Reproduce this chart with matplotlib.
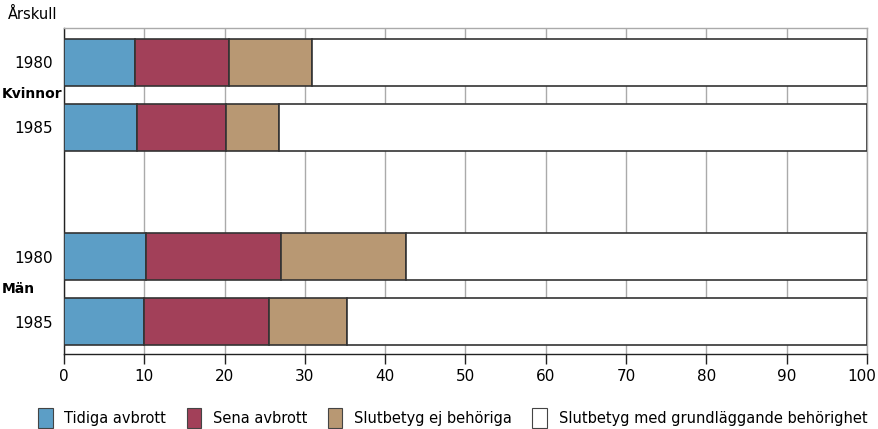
import numpy as np
import matplotlib
matplotlib.use('Agg')
import matplotlib.pyplot as plt
import matplotlib.transforms as mtransforms
from matplotlib.patches import Patch

# data
years = ['1980', '1985', '1980', '1985']
groups = ['Kvinnor', 'Män']
tidiga = [8.8, 9.1, 10.2, 10.0]
sena = [11.7, 11.1, 16.8, 15.5]
ej_behoriga = [10.4, 6.6, 15.6, 9.7]
series_names = ['Tidiga avbrott', 'Sena avbrott', 'Slutbetyg ej behöriga',
                'Slutbetyg med grundläggande behörighet']
colors = ['#5c9ec6', '#a24059', '#b89873', '#ffffff']

plt.rcParams['font.family'] = ['Liberation Sans Narrow', 'DejaVu Sans']
plt.rcParams['font.size'] = 10

fig = plt.figure(figsize=(8.79, 4.29), dpi=100)
ax = fig.add_axes([64/879, 1-354/429, (867-64)/879, (354-28)/429])

pos = np.array([0, 1, 3, 4])
tid = np.array(tidiga)
sen = np.array(sena)
ej = np.array(ej_behoriga)
rest = 100 - tid - sen - ej
left = np.zeros(4)
for vals, c in zip([tid, sen, ej, rest], colors):
    ax.barh(pos, vals, left=left, height=0.73, color=c,
            edgecolor='#333333', linewidth=1.2, zorder=3)
    left = left + vals

ax.set_xlim(0, 100)
ax.set_ylim(4.5, -0.53)
ax.set_xticks(np.arange(0, 101, 10))
ax.xaxis.grid(True, color='#aaaaaa', linewidth=1, zorder=0)
ax.set_yticks(pos)
ax.set_yticklabels(years)
ax.tick_params(axis='y', length=0, pad=8, labelsize=11)
ax.tick_params(axis='x', length=7, width=1, color='#222222', pad=4, labelsize=11)
for s in ['top', 'right']:
    ax.spines[s].set_color('#aaaaaa')
    ax.spines[s].set_linewidth(1)
for s in ['left', 'bottom']:
    ax.spines[s].set_color('#222222')
    ax.spines[s].set_linewidth(1)

# nudge the "100" label left so it stays inside the figure
last = ax.get_xticklabels()[-1]
last.set_transform(last.get_transform() +
                   mtransforms.ScaledTranslation(-5/100, 0, fig.dpi_scale_trans))

fig.text(8/879, 1-14/429, 'Årskull', fontsize=10.5, va='center', ha='left')
fig.text(2/879, 1-94/429, groups[0], fontsize=10, fontweight='bold', va='center', ha='left')
fig.text(2/879, 1-289/429, groups[1], fontsize=10, fontweight='bold', va='center', ha='left')

handles = [Patch(facecolor=c, edgecolor='#444444', linewidth=0.8) for c in colors]
fig.legend(handles, series_names, loc='center', bbox_to_anchor=(0.515, 1-418/429),
           ncol=4, frameon=False, fontsize=10.5, handlelength=1.0, handleheight=1.8,
           handletextpad=0.8, columnspacing=1.4)

fig.savefig('out.png', dpi=100)
